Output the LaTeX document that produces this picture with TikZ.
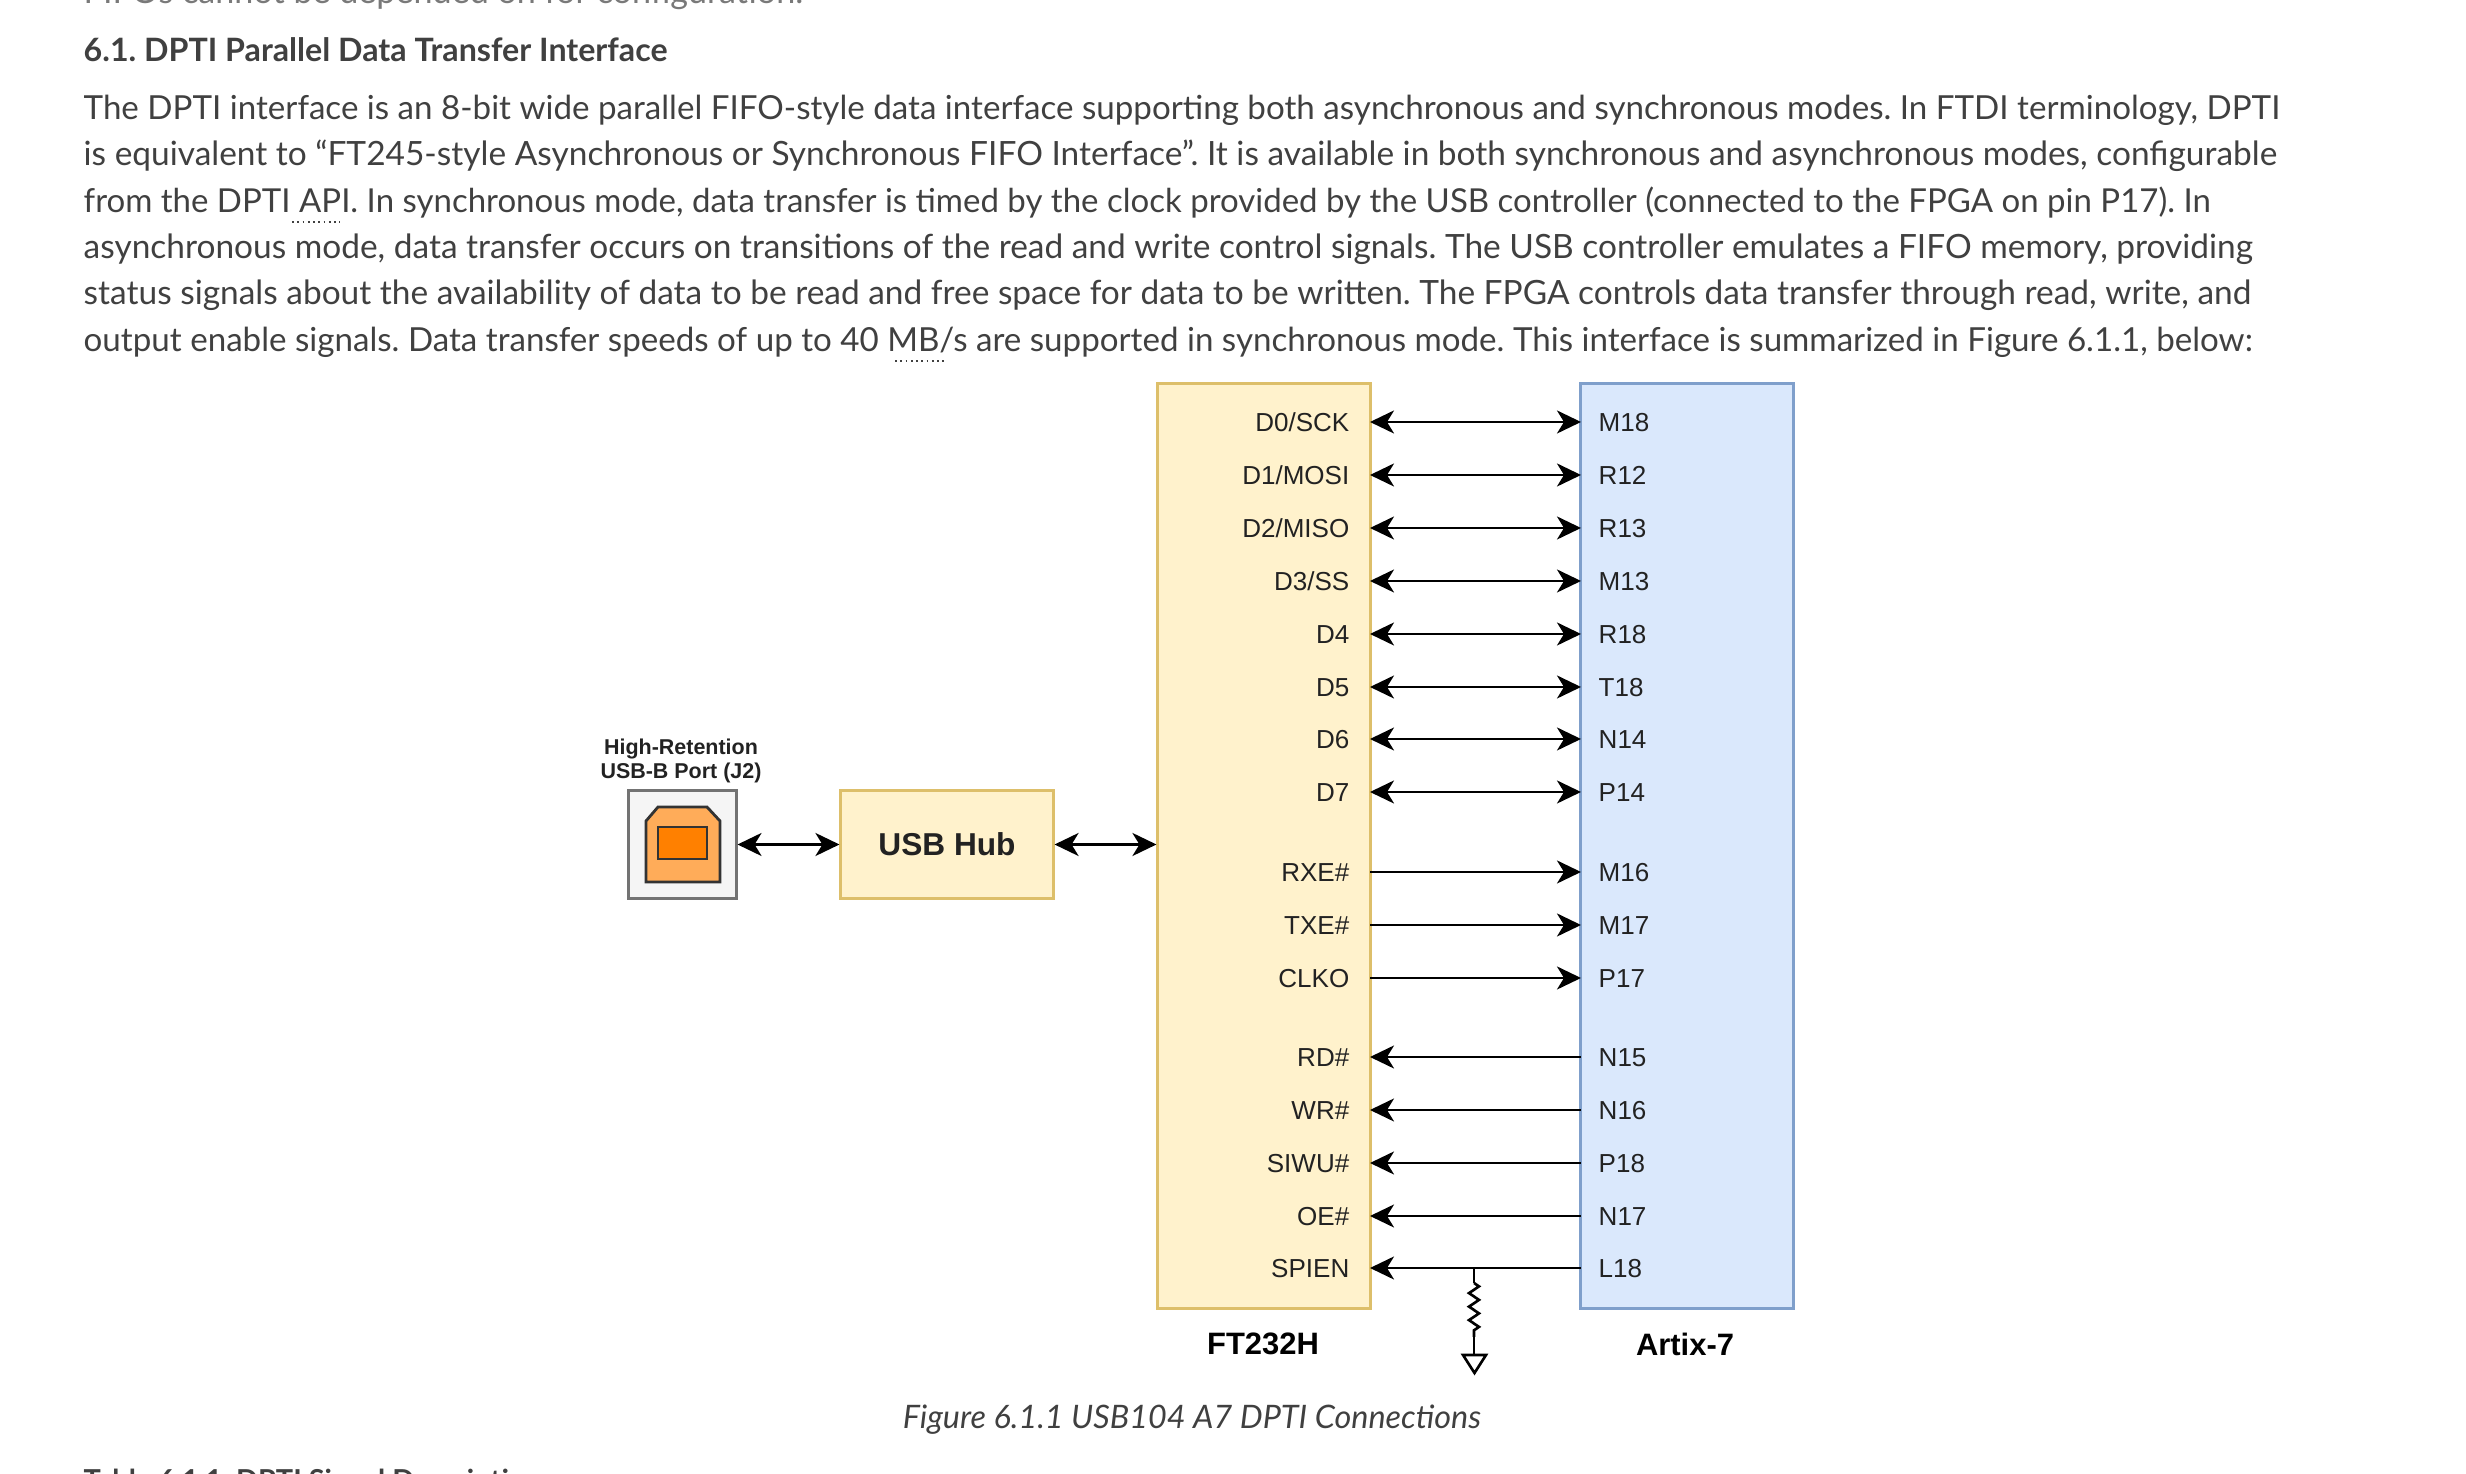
\documentclass[tikz,border=0pt]{standalone}
\usepackage{fontspec}
\setmainfont{Lato}
\setsansfont{Liberation Sans}
\usetikzlibrary{arrows.meta,decorations.pathmorphing}
\definecolor{bodytext}{HTML}{404040}
\definecolor{figtext}{HTML}{222222}
\frenchspacing
\tikzset{
  para/.style={anchor=west,inner sep=0pt,text=bodytext,font=\fontsize{9.5}{11}\selectfont},
  pinl/.style={anchor=east,inner xsep=.2cm,inner ysep=0pt,text height=.19cm,text depth=0pt,text=figtext,font=\sffamily\fontsize{7.4}{9}\selectfont},
  pinr/.style={anchor=west,inner xsep=.17cm,inner ysep=0pt,text height=.19cm,text depth=0pt,text=figtext,font=\sffamily\fontsize{7.4}{9}\selectfont},
  title/.style={inner sep=0pt,text=black,font=\sffamily\bfseries\fontsize{8.8}{10}\selectfont},
  both/.style={line width=.75pt,{Stealth[length=.24cm,width=.23cm,inset=.07cm]}-{Stealth[length=.24cm,width=.23cm,inset=.07cm]}},
  single/.style={line width=.75pt,-{Stealth[length=.24cm,width=.23cm,inset=.07cm]}},
  rsingle/.style={line width=.75pt,{Stealth[length=.24cm,width=.23cm,inset=.07cm]}-}
}
\definecolor{yellowfill}{HTML}{FFF2CC}
\definecolor{yellowedge}{HTML}{DDBF6A}
\definecolor{bluefill}{HTML}{DAE8FC}
\definecolor{blueedge}{HTML}{7F9FCB}
\begin{document}
\begin{tikzpicture}[x=.01cm,y=-.01cm]
\useasboundingbox (0,0) rectangle (2466,1474);
% text around the figure
\node[para,text=bodytext!70,font=\fontsize{9.7}{11}\selectfont] (cut) at (83,-6) {FIFOs cannot be depended on for configuration.};
\node[para,font=\fontsize{9.15}{11}\selectfont\bfseries] (head) at (83,50) {6.1. DPTI Parallel Data Transfer Interface};
\node[para,font=\fontsize{9.42}{11}\selectfont] (l1) at (83,110) {The DPTI interface is an 8-bit wide parallel FIFO-style data interface supporting both asynchronous and synchronous modes. In FTDI terminology, DPTI};
\node[para,font=\fontsize{9.51}{11}\selectfont] (l2) at (83,156) {is equivalent to “FT245-style Asynchronous or Synchronous FIFO Interface”. It is available in both synchronous and asynchronous modes, configurable};
\node[para,font=\fontsize{9.38}{11}\selectfont] (l3) at (83,203) {from the DPTI API. In synchronous mode, data transfer is timed by the clock provided by the USB controller (connected to the FPGA on pin P17). In};
\node[para,font=\fontsize{9.51}{11}\selectfont] (l4) at (83,249) {asynchronous mode, data transfer occurs on transitions of the read and write control signals. The USB controller emulates a FIFO memory, providing};
\node[para,font=\fontsize{9.51}{11}\selectfont] (l5) at (83,295) {status signals about the availability of data to be read and free space for data to be written. The FPGA controls data transfer through read, write, and};
\node[para,font=\fontsize{9.42}{11}\selectfont] (l6) at (83,342) {output enable signals. Data transfer speeds of up to 40 MB/s are supported in synchronous mode. This interface is summarized in Figure 6.1.1, below:};
\node[para,font=\fontsize{9.2}{11}\selectfont\itshape,anchor=center] (caption) at (1192,1420) {Figure 6.1.1 USB104 A7 DPTI Connections};
\node[para,font=\fontsize{8.2}{10}\selectfont\bfseries] (tablecap) at (83,1482) {Table 6.1.1. DPTI Signal Description};
\draw[bodytext,densely dotted,line width=.5pt] (292,222) -- (340,222);
\draw[bodytext,densely dotted,line width=.5pt] (895,361) -- (946,361);
% blocks
\node[draw=yellowedge,fill=yellowfill,line width=.85pt,minimum width=2.12cm,minimum height=9.25cm] (ft) at (1264,846) {};
\node[draw=blueedge,fill=bluefill,line width=.85pt,minimum width=2.12cm,minimum height=9.25cm] (artix) at (1687,846) {};
\node[draw=yellowedge,fill=yellowfill,line width=.85pt,minimum width=2.12cm,minimum height=1.07cm,font=\sffamily\bfseries\fontsize{9}{11}\selectfont,text=figtext] (hub) at (947,844.5) {\raisebox{-.015cm}{USB Hub}};
\node[draw=black!55,fill=black!4,line width=.85pt,minimum width=1.07cm,minimum height=1.07cm] (port) at (682.5,844.5) {};
\draw[black!80,fill=orange!65!white,line width=.8pt] (646,882) -- (646,821) -- (658,807) -- (707,807) -- (720,821) -- (720,882) -- cycle;
\draw[black!80,fill={rgb,255:red,255;green,128;blue,0},line width=.8pt] (658,827) rectangle (707,859);
\node[align=center,inner sep=0pt,text=figtext,font=\sffamily\bfseries\fontsize{6.1}{6.7}\selectfont] (portlabel) at (681,761) {High-Retention\\USB-B Port (J2)};
\node[title] (ftname) at (1263,1344) {FT232H};
\node[title] (artixname) at (1685,1344) {Artix-7};
% FT232H pins
\node[pinl] (D0) at (1370,422) {D0/SCK};
\node[pinl] (D1) at (1370,475) {D1/MOSI};
\node[pinl] (D2) at (1370,528) {D2/MISO};
\node[pinl] (D3) at (1370,581) {D3/SS};
\node[pinl] (D4) at (1370,634) {D4};
\node[pinl] (D5) at (1370,687) {D5};
\node[pinl] (D6) at (1370,739) {D6};
\node[pinl] (D7) at (1370,792) {D7};
\node[pinl] (RXE) at (1370,872) {RXE\#};
\node[pinl] (TXE) at (1370,925) {TXE\#};
\node[pinl] (CLKO) at (1370,978) {CLKO};
\node[pinl] (RD) at (1370,1057) {RD\#};
\node[pinl] (WR) at (1370,1110) {WR\#};
\node[pinl] (SIWU) at (1370,1163) {SIWU\#};
\node[pinl] (OE) at (1370,1216) {OE\#};
\node[pinl] (SPIEN) at (1370,1268) {SPIEN};
% Artix-7 pins
\node[pinr] (M18) at (1581,422) {M18};
\node[pinr] (R12) at (1581,475) {R12};
\node[pinr] (R13) at (1581,528) {R13};
\node[pinr] (M13) at (1581,581) {M13};
\node[pinr] (R18) at (1581,634) {R18};
\node[pinr] (T18) at (1581,687) {T18};
\node[pinr] (N14) at (1581,739) {N14};
\node[pinr] (P14) at (1581,792) {P14};
\node[pinr] (M16) at (1581,872) {M16};
\node[pinr] (M17) at (1581,925) {M17};
\node[pinr] (P17) at (1581,978) {P17};
\node[pinr] (N15) at (1581,1057) {N15};
\node[pinr] (N16) at (1581,1110) {N16};
\node[pinr] (P18) at (1581,1163) {P18};
\node[pinr] (N17) at (1581,1216) {N17};
\node[pinr] (L18) at (1581,1268) {L18};
% connections
\draw[both] (port.east |- hub) -- (hub.west);
\draw[both] (hub.east) -- (ft.west |- hub);
\draw[both] (D0.east) -- (M18.west);
\draw[both] (D1.east) -- (R12.west);
\draw[both] (D2.east) -- (R13.west);
\draw[both] (D3.east) -- (M13.west);
\draw[both] (D4.east) -- (R18.west);
\draw[both] (D5.east) -- (T18.west);
\draw[both] (D6.east) -- (N14.west);
\draw[both] (D7.east) -- (P14.west);
\draw[single] (RXE.east) -- (M16.west);
\draw[single] (TXE.east) -- (M17.west);
\draw[single] (CLKO.east) -- (P17.west);
\draw[rsingle] (RD.east) -- (N15.west);
\draw[rsingle] (WR.east) -- (N16.west);
\draw[rsingle] (SIWU.east) -- (P18.west);
\draw[rsingle] (OE.east) -- (N17.west);
\draw[rsingle] (SPIEN.east) -- (L18.west);
% pull-down
\coordinate (tap) at (1474,1268);
\coordinate (rtop) at (1474,1283);
\coordinate (rbot) at (1474,1337);
\coordinate (gnd) at (1474,1355);
\draw[line width=.75pt] (tap) -- (rtop);
\draw[line width=.75pt,decorate,decoration={zigzag,amplitude=.05cm,segment length=.135cm}] (rtop) -- (rbot);
\draw[line width=.75pt] (rbot) -- (gnd);
\draw[line width=.75pt,line join=miter] (1463,1355) -- (1486,1355) -- (1474.5,1373) -- cycle;
\end{tikzpicture}
\end{document}
